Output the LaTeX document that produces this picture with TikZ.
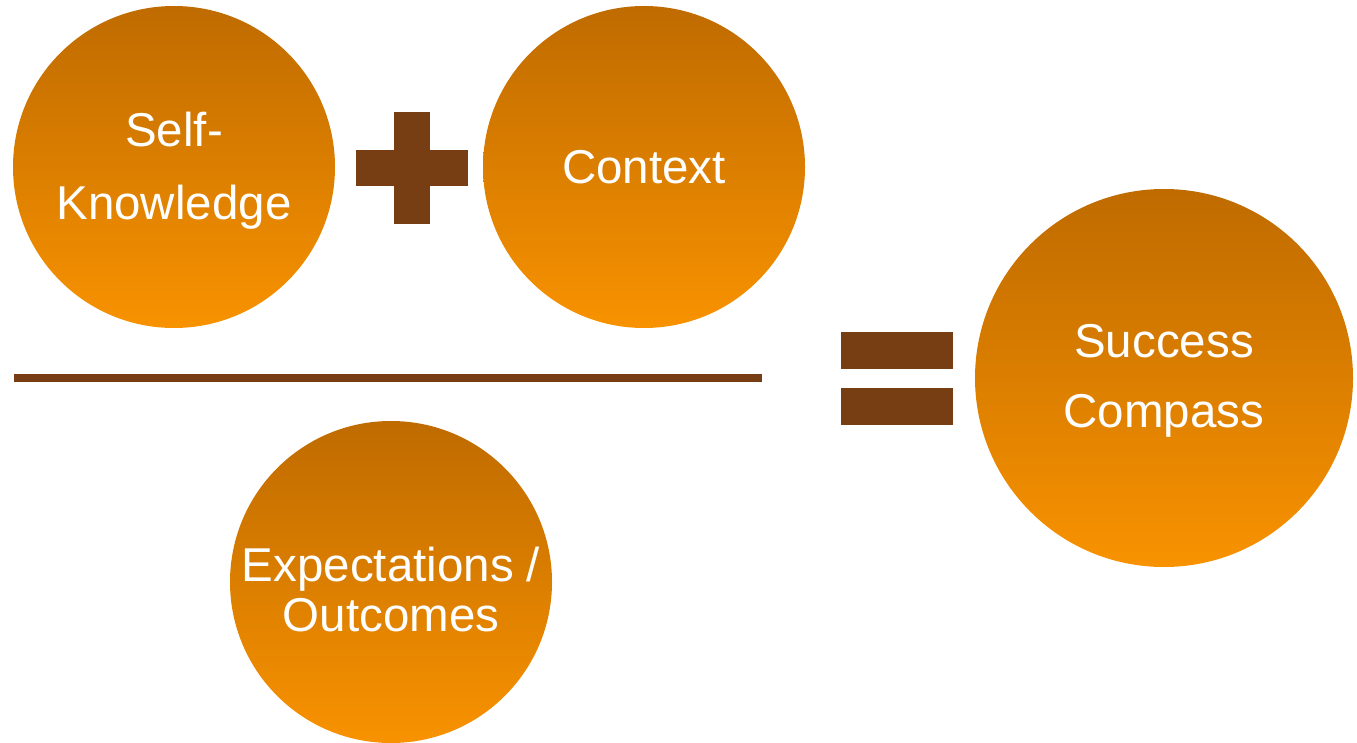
\documentclass[tikz,border=0pt]{standalone}
\usepackage{fontspec}
\setmainfont{Liberation Sans}
\definecolor{barbrown}{HTML}{773D13}
\definecolor{orTop}{HTML}{BF6B00}
\definecolor{orBot}{HTML}{F89200}
\begin{document}
\begin{tikzpicture}[x=1pt,y=-1pt,
  ball/.style={circle,minimum size=#1,inner sep=0pt,top color=orTop,bottom color=orBot,draw=none},
  txt/.style={text=white,align=center,inner sep=0pt,font=\fontsize{47.5}{#1}\selectfont},
  bar/.style={fill=barbrown,draw=none}]
\useasboundingbox (0,0) rectangle (1357,743);
\node[ball=322pt] (self) at (174,167) {};
\node[ball=322pt] (ctx) at (644,167) {};
\node[ball=322pt] (exp) at (391,582) {};
\node[ball=378pt] (succ) at (1164,378) {};
\node[txt=73] (selft) at ([yshift=-4pt]self.center) {Self-\\Knowledge};
\node[txt=70] (ctxt) at (ctx.center) {Context};
\node[txt=50] (expt) at ([yshift=-8pt]exp.center) {Expectations /\\Outcomes};
\node[txt=70] (succt) at ([yshift=-3pt]succ.center) {Success\\Compass};
% plus
\fill[bar] (356,150) rectangle (468,186);
\fill[bar] (394,112) rectangle (430,224);
% fraction line
\fill[bar] (14,374) rectangle (762,382);
% equals
\fill[bar] (841,332) rectangle (953,369);
\fill[bar] (841,388) rectangle (953,425);
\end{tikzpicture}
\end{document}
